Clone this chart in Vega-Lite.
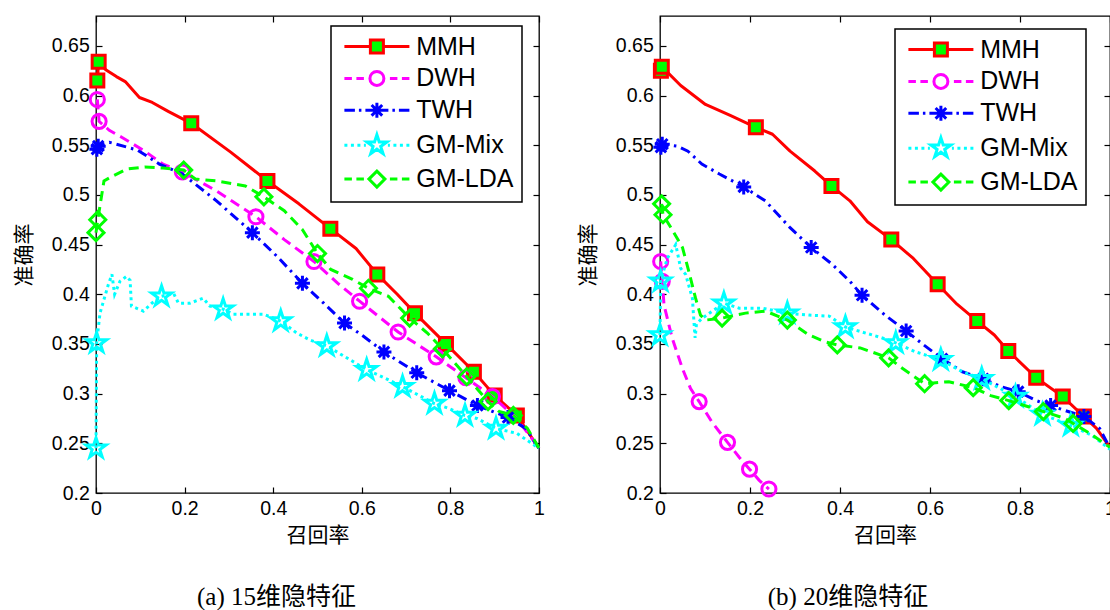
{
  "$schema": "https://vega.github.io/schema/vega-lite/v6.json",
  "background": "white",
  "padding": {"left": 12, "top": 14, "right": 2, "bottom": 2},
  "autosize": {"type": "pad"},
  "bounds": "flush",
  "spacing": 121,
  "datasets": {
    "curves": [
      {"panel": "a", "method": "MMH", "recall": 0.003, "precision": 0.615},
      {"panel": "a", "method": "MMH", "recall": 0.006, "precision": 0.634},
      {"panel": "a", "method": "MMH", "recall": 0.022, "precision": 0.626},
      {"panel": "a", "method": "MMH", "recall": 0.046, "precision": 0.619},
      {"panel": "a", "method": "MMH", "recall": 0.066, "precision": 0.614},
      {"panel": "a", "method": "MMH", "recall": 0.098, "precision": 0.598},
      {"panel": "a", "method": "MMH", "recall": 0.127, "precision": 0.593},
      {"panel": "a", "method": "MMH", "recall": 0.163, "precision": 0.584},
      {"panel": "a", "method": "MMH", "recall": 0.215, "precision": 0.572},
      {"panel": "a", "method": "MMH", "recall": 0.304, "precision": 0.543},
      {"panel": "a", "method": "MMH", "recall": 0.387, "precision": 0.514},
      {"panel": "a", "method": "MMH", "recall": 0.458, "precision": 0.491},
      {"panel": "a", "method": "MMH", "recall": 0.529, "precision": 0.466},
      {"panel": "a", "method": "MMH", "recall": 0.587, "precision": 0.446},
      {"panel": "a", "method": "MMH", "recall": 0.635, "precision": 0.420},
      {"panel": "a", "method": "MMH", "recall": 0.680, "precision": 0.400},
      {"panel": "a", "method": "MMH", "recall": 0.720, "precision": 0.381},
      {"panel": "a", "method": "MMH", "recall": 0.790, "precision": 0.350},
      {"panel": "a", "method": "MMH", "recall": 0.853, "precision": 0.322},
      {"panel": "a", "method": "MMH", "recall": 0.900, "precision": 0.298},
      {"panel": "a", "method": "MMH", "recall": 0.950, "precision": 0.278},
      {"panel": "a", "method": "MMH", "recall": 1.000, "precision": 0.245},

      {"panel": "a", "method": "DWH", "recall": 0.003, "precision": 0.596},
      {"panel": "a", "method": "DWH", "recall": 0.007, "precision": 0.574},
      {"panel": "a", "method": "DWH", "recall": 0.030, "precision": 0.565},
      {"panel": "a", "method": "DWH", "recall": 0.058, "precision": 0.558},
      {"panel": "a", "method": "DWH", "recall": 0.110, "precision": 0.544},
      {"panel": "a", "method": "DWH", "recall": 0.151, "precision": 0.531},
      {"panel": "a", "method": "DWH", "recall": 0.195, "precision": 0.523},
      {"panel": "a", "method": "DWH", "recall": 0.272, "precision": 0.504},
      {"panel": "a", "method": "DWH", "recall": 0.361, "precision": 0.478},
      {"panel": "a", "method": "DWH", "recall": 0.425, "precision": 0.455},
      {"panel": "a", "method": "DWH", "recall": 0.492, "precision": 0.433},
      {"panel": "a", "method": "DWH", "recall": 0.546, "precision": 0.411},
      {"panel": "a", "method": "DWH", "recall": 0.595, "precision": 0.393},
      {"panel": "a", "method": "DWH", "recall": 0.682, "precision": 0.362},
      {"panel": "a", "method": "DWH", "recall": 0.768, "precision": 0.337},
      {"panel": "a", "method": "DWH", "recall": 0.835, "precision": 0.316},
      {"panel": "a", "method": "DWH", "recall": 0.895, "precision": 0.297},
      {"panel": "a", "method": "DWH", "recall": 0.950, "precision": 0.275},
      {"panel": "a", "method": "DWH", "recall": 1.000, "precision": 0.245},

      {"panel": "a", "method": "TWH", "recall": 0.002, "precision": 0.546},
      {"panel": "a", "method": "TWH", "recall": 0.005, "precision": 0.549},
      {"panel": "a", "method": "TWH", "recall": 0.030, "precision": 0.553},
      {"panel": "a", "method": "TWH", "recall": 0.094, "precision": 0.545},
      {"panel": "a", "method": "TWH", "recall": 0.143, "precision": 0.531},
      {"panel": "a", "method": "TWH", "recall": 0.195, "precision": 0.521},
      {"panel": "a", "method": "TWH", "recall": 0.272, "precision": 0.494},
      {"panel": "a", "method": "TWH", "recall": 0.353, "precision": 0.462},
      {"panel": "a", "method": "TWH", "recall": 0.409, "precision": 0.438},
      {"panel": "a", "method": "TWH", "recall": 0.466, "precision": 0.411},
      {"panel": "a", "method": "TWH", "recall": 0.514, "precision": 0.391},
      {"panel": "a", "method": "TWH", "recall": 0.561, "precision": 0.371},
      {"panel": "a", "method": "TWH", "recall": 0.603, "precision": 0.358},
      {"panel": "a", "method": "TWH", "recall": 0.650, "precision": 0.342},
      {"panel": "a", "method": "TWH", "recall": 0.724, "precision": 0.321},
      {"panel": "a", "method": "TWH", "recall": 0.798, "precision": 0.303},
      {"panel": "a", "method": "TWH", "recall": 0.861, "precision": 0.288},
      {"panel": "a", "method": "TWH", "recall": 0.930, "precision": 0.276},
      {"panel": "a", "method": "TWH", "recall": 0.970, "precision": 0.265},
      {"panel": "a", "method": "TWH", "recall": 1.000, "precision": 0.245},

      {"panel": "a", "method": "GM-Mix", "recall": 0.000, "precision": 0.245},
      {"panel": "a", "method": "GM-Mix", "recall": 0.0015, "precision": 0.351},
      {"panel": "a", "method": "GM-Mix", "recall": 0.009, "precision": 0.381},
      {"panel": "a", "method": "GM-Mix", "recall": 0.028, "precision": 0.410},
      {"panel": "a", "method": "GM-Mix", "recall": 0.036, "precision": 0.420},
      {"panel": "a", "method": "GM-Mix", "recall": 0.042, "precision": 0.400},
      {"panel": "a", "method": "GM-Mix", "recall": 0.054, "precision": 0.413},
      {"panel": "a", "method": "GM-Mix", "recall": 0.069, "precision": 0.418},
      {"panel": "a", "method": "GM-Mix", "recall": 0.077, "precision": 0.414},
      {"panel": "a", "method": "GM-Mix", "recall": 0.080, "precision": 0.388},
      {"panel": "a", "method": "GM-Mix", "recall": 0.107, "precision": 0.383},
      {"panel": "a", "method": "GM-Mix", "recall": 0.126, "precision": 0.391},
      {"panel": "a", "method": "GM-Mix", "recall": 0.148, "precision": 0.398},
      {"panel": "a", "method": "GM-Mix", "recall": 0.175, "precision": 0.401},
      {"panel": "a", "method": "GM-Mix", "recall": 0.186, "precision": 0.391},
      {"panel": "a", "method": "GM-Mix", "recall": 0.212, "precision": 0.391},
      {"panel": "a", "method": "GM-Mix", "recall": 0.242, "precision": 0.396},
      {"panel": "a", "method": "GM-Mix", "recall": 0.257, "precision": 0.388},
      {"panel": "a", "method": "GM-Mix", "recall": 0.287, "precision": 0.385},
      {"panel": "a", "method": "GM-Mix", "recall": 0.310, "precision": 0.380},
      {"panel": "a", "method": "GM-Mix", "recall": 0.340, "precision": 0.380},
      {"panel": "a", "method": "GM-Mix", "recall": 0.378, "precision": 0.380},
      {"panel": "a", "method": "GM-Mix", "recall": 0.417, "precision": 0.373},
      {"panel": "a", "method": "GM-Mix", "recall": 0.453, "precision": 0.361},
      {"panel": "a", "method": "GM-Mix", "recall": 0.483, "precision": 0.354},
      {"panel": "a", "method": "GM-Mix", "recall": 0.521, "precision": 0.348},
      {"panel": "a", "method": "GM-Mix", "recall": 0.570, "precision": 0.335},
      {"panel": "a", "method": "GM-Mix", "recall": 0.611, "precision": 0.324},
      {"panel": "a", "method": "GM-Mix", "recall": 0.650, "precision": 0.316},
      {"panel": "a", "method": "GM-Mix", "recall": 0.692, "precision": 0.307},
      {"panel": "a", "method": "GM-Mix", "recall": 0.764, "precision": 0.290},
      {"panel": "a", "method": "GM-Mix", "recall": 0.797, "precision": 0.285},
      {"panel": "a", "method": "GM-Mix", "recall": 0.833, "precision": 0.278},
      {"panel": "a", "method": "GM-Mix", "recall": 0.860, "precision": 0.275},
      {"panel": "a", "method": "GM-Mix", "recall": 0.903, "precision": 0.265},
      {"panel": "a", "method": "GM-Mix", "recall": 0.950, "precision": 0.260},
      {"panel": "a", "method": "GM-Mix", "recall": 1.000, "precision": 0.245},

      {"panel": "a", "method": "GM-LDA", "recall": 0.000, "precision": 0.462},
      {"panel": "a", "method": "GM-LDA", "recall": 0.004, "precision": 0.475},
      {"panel": "a", "method": "GM-LDA", "recall": 0.0097, "precision": 0.491},
      {"panel": "a", "method": "GM-LDA", "recall": 0.018, "precision": 0.514},
      {"panel": "a", "method": "GM-LDA", "recall": 0.038, "precision": 0.519},
      {"panel": "a", "method": "GM-LDA", "recall": 0.070, "precision": 0.526},
      {"panel": "a", "method": "GM-LDA", "recall": 0.110, "precision": 0.528},
      {"panel": "a", "method": "GM-LDA", "recall": 0.151, "precision": 0.527},
      {"panel": "a", "method": "GM-LDA", "recall": 0.198, "precision": 0.525},
      {"panel": "a", "method": "GM-LDA", "recall": 0.224, "precision": 0.516},
      {"panel": "a", "method": "GM-LDA", "recall": 0.272, "precision": 0.514},
      {"panel": "a", "method": "GM-LDA", "recall": 0.337, "precision": 0.509},
      {"panel": "a", "method": "GM-LDA", "recall": 0.379, "precision": 0.498},
      {"panel": "a", "method": "GM-LDA", "recall": 0.425, "precision": 0.484},
      {"panel": "a", "method": "GM-LDA", "recall": 0.466, "precision": 0.465},
      {"panel": "a", "method": "GM-LDA", "recall": 0.500, "precision": 0.441},
      {"panel": "a", "method": "GM-LDA", "recall": 0.530, "precision": 0.425},
      {"panel": "a", "method": "GM-LDA", "recall": 0.579, "precision": 0.415},
      {"panel": "a", "method": "GM-LDA", "recall": 0.615, "precision": 0.406},
      {"panel": "a", "method": "GM-LDA", "recall": 0.660, "precision": 0.398},
      {"panel": "a", "method": "GM-LDA", "recall": 0.708, "precision": 0.376},
      {"panel": "a", "method": "GM-LDA", "recall": 0.748, "precision": 0.361},
      {"panel": "a", "method": "GM-LDA", "recall": 0.782, "precision": 0.345},
      {"panel": "a", "method": "GM-LDA", "recall": 0.837, "precision": 0.317},
      {"panel": "a", "method": "GM-LDA", "recall": 0.885, "precision": 0.292},
      {"panel": "a", "method": "GM-LDA", "recall": 0.910, "precision": 0.282},
      {"panel": "a", "method": "GM-LDA", "recall": 0.942, "precision": 0.278},
      {"panel": "a", "method": "GM-LDA", "recall": 0.974, "precision": 0.265},
      {"panel": "a", "method": "GM-LDA", "recall": 1.000, "precision": 0.245},

      {"panel": "b", "method": "MMH", "recall": 0.002, "precision": 0.625},
      {"panel": "b", "method": "MMH", "recall": 0.004, "precision": 0.629},
      {"panel": "b", "method": "MMH", "recall": 0.046, "precision": 0.610},
      {"panel": "b", "method": "MMH", "recall": 0.101, "precision": 0.591},
      {"panel": "b", "method": "MMH", "recall": 0.156, "precision": 0.580},
      {"panel": "b", "method": "MMH", "recall": 0.213, "precision": 0.568},
      {"panel": "b", "method": "MMH", "recall": 0.250, "precision": 0.561},
      {"panel": "b", "method": "MMH", "recall": 0.289, "precision": 0.544},
      {"panel": "b", "method": "MMH", "recall": 0.344, "precision": 0.524},
      {"panel": "b", "method": "MMH", "recall": 0.381, "precision": 0.509},
      {"panel": "b", "method": "MMH", "recall": 0.422, "precision": 0.494},
      {"panel": "b", "method": "MMH", "recall": 0.461, "precision": 0.473},
      {"panel": "b", "method": "MMH", "recall": 0.514, "precision": 0.455},
      {"panel": "b", "method": "MMH", "recall": 0.563, "precision": 0.436},
      {"panel": "b", "method": "MMH", "recall": 0.617, "precision": 0.410},
      {"panel": "b", "method": "MMH", "recall": 0.660, "precision": 0.390},
      {"panel": "b", "method": "MMH", "recall": 0.705, "precision": 0.373},
      {"panel": "b", "method": "MMH", "recall": 0.743, "precision": 0.359},
      {"panel": "b", "method": "MMH", "recall": 0.774, "precision": 0.343},
      {"panel": "b", "method": "MMH", "recall": 0.836, "precision": 0.316},
      {"panel": "b", "method": "MMH", "recall": 0.895, "precision": 0.297},
      {"panel": "b", "method": "MMH", "recall": 0.942, "precision": 0.277},
      {"panel": "b", "method": "MMH", "recall": 0.970, "precision": 0.265},
      {"panel": "b", "method": "MMH", "recall": 1.000, "precision": 0.246},

      {"panel": "b", "method": "DWH", "recall": 0.0015, "precision": 0.433},
      {"panel": "b", "method": "DWH", "recall": 0.005, "precision": 0.413},
      {"panel": "b", "method": "DWH", "recall": 0.009, "precision": 0.389},
      {"panel": "b", "method": "DWH", "recall": 0.027, "precision": 0.356},
      {"panel": "b", "method": "DWH", "recall": 0.050, "precision": 0.325},
      {"panel": "b", "method": "DWH", "recall": 0.068, "precision": 0.305},
      {"panel": "b", "method": "DWH", "recall": 0.087, "precision": 0.292},
      {"panel": "b", "method": "DWH", "recall": 0.116, "precision": 0.271},
      {"panel": "b", "method": "DWH", "recall": 0.150, "precision": 0.251},
      {"panel": "b", "method": "DWH", "recall": 0.176, "precision": 0.236},
      {"panel": "b", "method": "DWH", "recall": 0.199, "precision": 0.224},
      {"panel": "b", "method": "DWH", "recall": 0.220, "precision": 0.213},
      {"panel": "b", "method": "DWH", "recall": 0.242, "precision": 0.204},

      {"panel": "b", "method": "TWH", "recall": 0.002, "precision": 0.548},
      {"panel": "b", "method": "TWH", "recall": 0.005, "precision": 0.551},
      {"panel": "b", "method": "TWH", "recall": 0.038, "precision": 0.549},
      {"panel": "b", "method": "TWH", "recall": 0.062, "precision": 0.544},
      {"panel": "b", "method": "TWH", "recall": 0.093, "precision": 0.531},
      {"panel": "b", "method": "TWH", "recall": 0.132, "precision": 0.521},
      {"panel": "b", "method": "TWH", "recall": 0.186, "precision": 0.508},
      {"panel": "b", "method": "TWH", "recall": 0.234, "precision": 0.494},
      {"panel": "b", "method": "TWH", "recall": 0.289, "precision": 0.467},
      {"panel": "b", "method": "TWH", "recall": 0.336, "precision": 0.447},
      {"panel": "b", "method": "TWH", "recall": 0.383, "precision": 0.430},
      {"panel": "b", "method": "TWH", "recall": 0.422, "precision": 0.413},
      {"panel": "b", "method": "TWH", "recall": 0.449, "precision": 0.399},
      {"panel": "b", "method": "TWH", "recall": 0.500, "precision": 0.379},
      {"panel": "b", "method": "TWH", "recall": 0.547, "precision": 0.363},
      {"panel": "b", "method": "TWH", "recall": 0.586, "precision": 0.349},
      {"panel": "b", "method": "TWH", "recall": 0.627, "precision": 0.335},
      {"panel": "b", "method": "TWH", "recall": 0.672, "precision": 0.322},
      {"panel": "b", "method": "TWH", "recall": 0.718, "precision": 0.315},
      {"panel": "b", "method": "TWH", "recall": 0.758, "precision": 0.307},
      {"panel": "b", "method": "TWH", "recall": 0.796, "precision": 0.302},
      {"panel": "b", "method": "TWH", "recall": 0.836, "precision": 0.293},
      {"panel": "b", "method": "TWH", "recall": 0.868, "precision": 0.288},
      {"panel": "b", "method": "TWH", "recall": 0.907, "precision": 0.282},
      {"panel": "b", "method": "TWH", "recall": 0.942, "precision": 0.277},
      {"panel": "b", "method": "TWH", "recall": 0.977, "precision": 0.265},
      {"panel": "b", "method": "TWH", "recall": 1.000, "precision": 0.245},

      {"panel": "b", "method": "GM-Mix", "recall": 0.000, "precision": 0.359},
      {"panel": "b", "method": "GM-Mix", "recall": 0.0015, "precision": 0.413},
      {"panel": "b", "method": "GM-Mix", "recall": 0.016, "precision": 0.436},
      {"panel": "b", "method": "GM-Mix", "recall": 0.035, "precision": 0.450},
      {"panel": "b", "method": "GM-Mix", "recall": 0.046, "precision": 0.426},
      {"panel": "b", "method": "GM-Mix", "recall": 0.057, "precision": 0.420},
      {"panel": "b", "method": "GM-Mix", "recall": 0.072, "precision": 0.396},
      {"panel": "b", "method": "GM-Mix", "recall": 0.0755, "precision": 0.372},
      {"panel": "b", "method": "GM-Mix", "recall": 0.078, "precision": 0.356},
      {"panel": "b", "method": "GM-Mix", "recall": 0.081, "precision": 0.370},
      {"panel": "b", "method": "GM-Mix", "recall": 0.094, "precision": 0.376},
      {"panel": "b", "method": "GM-Mix", "recall": 0.142, "precision": 0.391},
      {"panel": "b", "method": "GM-Mix", "recall": 0.176, "precision": 0.386},
      {"panel": "b", "method": "GM-Mix", "recall": 0.227, "precision": 0.386},
      {"panel": "b", "method": "GM-Mix", "recall": 0.283, "precision": 0.381},
      {"panel": "b", "method": "GM-Mix", "recall": 0.331, "precision": 0.379},
      {"panel": "b", "method": "GM-Mix", "recall": 0.376, "precision": 0.378},
      {"panel": "b", "method": "GM-Mix", "recall": 0.412, "precision": 0.367},
      {"panel": "b", "method": "GM-Mix", "recall": 0.494, "precision": 0.356},
      {"panel": "b", "method": "GM-Mix", "recall": 0.524, "precision": 0.351},
      {"panel": "b", "method": "GM-Mix", "recall": 0.568, "precision": 0.342},
      {"panel": "b", "method": "GM-Mix", "recall": 0.624, "precision": 0.334},
      {"panel": "b", "method": "GM-Mix", "recall": 0.672, "precision": 0.322},
      {"panel": "b", "method": "GM-Mix", "recall": 0.715, "precision": 0.315},
      {"panel": "b", "method": "GM-Mix", "recall": 0.790, "precision": 0.297},
      {"panel": "b", "method": "GM-Mix", "recall": 0.850, "precision": 0.279},
      {"panel": "b", "method": "GM-Mix", "recall": 0.913, "precision": 0.268},
      {"panel": "b", "method": "GM-Mix", "recall": 0.960, "precision": 0.258},
      {"panel": "b", "method": "GM-Mix", "recall": 1.000, "precision": 0.244},

      {"panel": "b", "method": "GM-LDA", "recall": 0.0036, "precision": 0.491},
      {"panel": "b", "method": "GM-LDA", "recall": 0.0067, "precision": 0.480},
      {"panel": "b", "method": "GM-LDA", "recall": 0.027, "precision": 0.465},
      {"panel": "b", "method": "GM-LDA", "recall": 0.050, "precision": 0.447},
      {"panel": "b", "method": "GM-LDA", "recall": 0.064, "precision": 0.423},
      {"panel": "b", "method": "GM-LDA", "recall": 0.079, "precision": 0.396},
      {"panel": "b", "method": "GM-LDA", "recall": 0.090, "precision": 0.379},
      {"panel": "b", "method": "GM-LDA", "recall": 0.101, "precision": 0.374},
      {"panel": "b", "method": "GM-LDA", "recall": 0.138, "precision": 0.376},
      {"panel": "b", "method": "GM-LDA", "recall": 0.190, "precision": 0.381},
      {"panel": "b", "method": "GM-LDA", "recall": 0.235, "precision": 0.383},
      {"panel": "b", "method": "GM-LDA", "recall": 0.283, "precision": 0.374},
      {"panel": "b", "method": "GM-LDA", "recall": 0.331, "precision": 0.359},
      {"panel": "b", "method": "GM-LDA", "recall": 0.368, "precision": 0.352},
      {"panel": "b", "method": "GM-LDA", "recall": 0.394, "precision": 0.349},
      {"panel": "b", "method": "GM-LDA", "recall": 0.445, "precision": 0.346},
      {"panel": "b", "method": "GM-LDA", "recall": 0.508, "precision": 0.336},
      {"panel": "b", "method": "GM-LDA", "recall": 0.540, "precision": 0.325},
      {"panel": "b", "method": "GM-LDA", "recall": 0.588, "precision": 0.310},
      {"panel": "b", "method": "GM-LDA", "recall": 0.642, "precision": 0.312},
      {"panel": "b", "method": "GM-LDA", "recall": 0.696, "precision": 0.306},
      {"panel": "b", "method": "GM-LDA", "recall": 0.735, "precision": 0.298},
      {"panel": "b", "method": "GM-LDA", "recall": 0.775, "precision": 0.293},
      {"panel": "b", "method": "GM-LDA", "recall": 0.852, "precision": 0.282},
      {"panel": "b", "method": "GM-LDA", "recall": 0.900, "precision": 0.275},
      {"panel": "b", "method": "GM-LDA", "recall": 0.918, "precision": 0.270},
      {"panel": "b", "method": "GM-LDA", "recall": 0.955, "precision": 0.260},
      {"panel": "b", "method": "GM-LDA", "recall": 1.000, "precision": 0.246}
    ],
    "markers": [
      {"panel": "a", "method": "MMH", "recall": 0.003, "precision": 0.615},
      {"panel": "a", "method": "MMH", "recall": 0.006, "precision": 0.634},
      {"panel": "a", "method": "MMH", "recall": 0.215, "precision": 0.572},
      {"panel": "a", "method": "MMH", "recall": 0.387, "precision": 0.514},
      {"panel": "a", "method": "MMH", "recall": 0.529, "precision": 0.466},
      {"panel": "a", "method": "MMH", "recall": 0.635, "precision": 0.420},
      {"panel": "a", "method": "MMH", "recall": 0.720, "precision": 0.381},
      {"panel": "a", "method": "MMH", "recall": 0.790, "precision": 0.350},
      {"panel": "a", "method": "MMH", "recall": 0.853, "precision": 0.322},
      {"panel": "a", "method": "MMH", "recall": 0.900, "precision": 0.298},
      {"panel": "a", "method": "MMH", "recall": 0.950, "precision": 0.278},

      {"panel": "a", "method": "DWH", "recall": 0.003, "precision": 0.596},
      {"panel": "a", "method": "DWH", "recall": 0.007, "precision": 0.574},
      {"panel": "a", "method": "DWH", "recall": 0.195, "precision": 0.523},
      {"panel": "a", "method": "DWH", "recall": 0.361, "precision": 0.478},
      {"panel": "a", "method": "DWH", "recall": 0.492, "precision": 0.433},
      {"panel": "a", "method": "DWH", "recall": 0.595, "precision": 0.393},
      {"panel": "a", "method": "DWH", "recall": 0.682, "precision": 0.362},
      {"panel": "a", "method": "DWH", "recall": 0.768, "precision": 0.337},
      {"panel": "a", "method": "DWH", "recall": 0.835, "precision": 0.316},
      {"panel": "a", "method": "DWH", "recall": 0.895, "precision": 0.297},

      {"panel": "a", "method": "TWH", "recall": 0.002, "precision": 0.546},
      {"panel": "a", "method": "TWH", "recall": 0.005, "precision": 0.549},
      {"panel": "a", "method": "TWH", "recall": 0.353, "precision": 0.462},
      {"panel": "a", "method": "TWH", "recall": 0.466, "precision": 0.411},
      {"panel": "a", "method": "TWH", "recall": 0.561, "precision": 0.371},
      {"panel": "a", "method": "TWH", "recall": 0.650, "precision": 0.342},
      {"panel": "a", "method": "TWH", "recall": 0.724, "precision": 0.321},
      {"panel": "a", "method": "TWH", "recall": 0.798, "precision": 0.303},
      {"panel": "a", "method": "TWH", "recall": 0.861, "precision": 0.288},
      {"panel": "a", "method": "TWH", "recall": 0.930, "precision": 0.276},

      {"panel": "a", "method": "GM-Mix", "recall": 0.000, "precision": 0.245},
      {"panel": "a", "method": "GM-Mix", "recall": 0.0015, "precision": 0.351},
      {"panel": "a", "method": "GM-Mix", "recall": 0.148, "precision": 0.398},
      {"panel": "a", "method": "GM-Mix", "recall": 0.287, "precision": 0.385},
      {"panel": "a", "method": "GM-Mix", "recall": 0.417, "precision": 0.373},
      {"panel": "a", "method": "GM-Mix", "recall": 0.521, "precision": 0.348},
      {"panel": "a", "method": "GM-Mix", "recall": 0.611, "precision": 0.324},
      {"panel": "a", "method": "GM-Mix", "recall": 0.692, "precision": 0.307},
      {"panel": "a", "method": "GM-Mix", "recall": 0.764, "precision": 0.290},
      {"panel": "a", "method": "GM-Mix", "recall": 0.833, "precision": 0.278},
      {"panel": "a", "method": "GM-Mix", "recall": 0.903, "precision": 0.265},

      {"panel": "a", "method": "GM-LDA", "recall": 0.000, "precision": 0.462},
      {"panel": "a", "method": "GM-LDA", "recall": 0.004, "precision": 0.475},
      {"panel": "a", "method": "GM-LDA", "recall": 0.198, "precision": 0.525},
      {"panel": "a", "method": "GM-LDA", "recall": 0.379, "precision": 0.498},
      {"panel": "a", "method": "GM-LDA", "recall": 0.500, "precision": 0.441},
      {"panel": "a", "method": "GM-LDA", "recall": 0.615, "precision": 0.406},
      {"panel": "a", "method": "GM-LDA", "recall": 0.708, "precision": 0.376},
      {"panel": "a", "method": "GM-LDA", "recall": 0.782, "precision": 0.345},
      {"panel": "a", "method": "GM-LDA", "recall": 0.837, "precision": 0.317},
      {"panel": "a", "method": "GM-LDA", "recall": 0.885, "precision": 0.292},
      {"panel": "a", "method": "GM-LDA", "recall": 0.942, "precision": 0.278},

      {"panel": "b", "method": "MMH", "recall": 0.002, "precision": 0.625},
      {"panel": "b", "method": "MMH", "recall": 0.004, "precision": 0.629},
      {"panel": "b", "method": "MMH", "recall": 0.213, "precision": 0.568},
      {"panel": "b", "method": "MMH", "recall": 0.381, "precision": 0.509},
      {"panel": "b", "method": "MMH", "recall": 0.514, "precision": 0.455},
      {"panel": "b", "method": "MMH", "recall": 0.617, "precision": 0.410},
      {"panel": "b", "method": "MMH", "recall": 0.705, "precision": 0.373},
      {"panel": "b", "method": "MMH", "recall": 0.774, "precision": 0.343},
      {"panel": "b", "method": "MMH", "recall": 0.836, "precision": 0.316},
      {"panel": "b", "method": "MMH", "recall": 0.895, "precision": 0.297},
      {"panel": "b", "method": "MMH", "recall": 0.942, "precision": 0.277},

      {"panel": "b", "method": "DWH", "recall": 0.0015, "precision": 0.433},
      {"panel": "b", "method": "DWH", "recall": 0.005, "precision": 0.413},
      {"panel": "b", "method": "DWH", "recall": 0.087, "precision": 0.292},
      {"panel": "b", "method": "DWH", "recall": 0.150, "precision": 0.251},
      {"panel": "b", "method": "DWH", "recall": 0.199, "precision": 0.224},
      {"panel": "b", "method": "DWH", "recall": 0.242, "precision": 0.204},

      {"panel": "b", "method": "TWH", "recall": 0.002, "precision": 0.548},
      {"panel": "b", "method": "TWH", "recall": 0.005, "precision": 0.551},
      {"panel": "b", "method": "TWH", "recall": 0.186, "precision": 0.508},
      {"panel": "b", "method": "TWH", "recall": 0.336, "precision": 0.447},
      {"panel": "b", "method": "TWH", "recall": 0.449, "precision": 0.399},
      {"panel": "b", "method": "TWH", "recall": 0.547, "precision": 0.363},
      {"panel": "b", "method": "TWH", "recall": 0.627, "precision": 0.335},
      {"panel": "b", "method": "TWH", "recall": 0.718, "precision": 0.315},
      {"panel": "b", "method": "TWH", "recall": 0.796, "precision": 0.302},
      {"panel": "b", "method": "TWH", "recall": 0.868, "precision": 0.288},
      {"panel": "b", "method": "TWH", "recall": 0.942, "precision": 0.277},

      {"panel": "b", "method": "GM-Mix", "recall": 0.000, "precision": 0.359},
      {"panel": "b", "method": "GM-Mix", "recall": 0.0015, "precision": 0.413},
      {"panel": "b", "method": "GM-Mix", "recall": 0.142, "precision": 0.391},
      {"panel": "b", "method": "GM-Mix", "recall": 0.283, "precision": 0.381},
      {"panel": "b", "method": "GM-Mix", "recall": 0.412, "precision": 0.367},
      {"panel": "b", "method": "GM-Mix", "recall": 0.524, "precision": 0.351},
      {"panel": "b", "method": "GM-Mix", "recall": 0.624, "precision": 0.334},
      {"panel": "b", "method": "GM-Mix", "recall": 0.715, "precision": 0.315},
      {"panel": "b", "method": "GM-Mix", "recall": 0.790, "precision": 0.297},
      {"panel": "b", "method": "GM-Mix", "recall": 0.850, "precision": 0.279},
      {"panel": "b", "method": "GM-Mix", "recall": 0.913, "precision": 0.268},

      {"panel": "b", "method": "GM-LDA", "recall": 0.0036, "precision": 0.491},
      {"panel": "b", "method": "GM-LDA", "recall": 0.0067, "precision": 0.480},
      {"panel": "b", "method": "GM-LDA", "recall": 0.138, "precision": 0.376},
      {"panel": "b", "method": "GM-LDA", "recall": 0.283, "precision": 0.374},
      {"panel": "b", "method": "GM-LDA", "recall": 0.394, "precision": 0.349},
      {"panel": "b", "method": "GM-LDA", "recall": 0.508, "precision": 0.336},
      {"panel": "b", "method": "GM-LDA", "recall": 0.588, "precision": 0.310},
      {"panel": "b", "method": "GM-LDA", "recall": 0.696, "precision": 0.306},
      {"panel": "b", "method": "GM-LDA", "recall": 0.775, "precision": 0.293},
      {"panel": "b", "method": "GM-LDA", "recall": 0.852, "precision": 0.282},
      {"panel": "b", "method": "GM-LDA", "recall": 0.918, "precision": 0.270}
    ]
  },
  "hconcat": [
    {
      "width": 443,
      "height": 477,
      "title": {"text": "(a) 15维隐特征", "dx": -41},
      "resolve": {"scale": {"x": "independent", "y": "independent"}},
      "encoding": {
        "x": {"field": "recall", "type": "quantitative", "scale": {"domain": [0, 1], "nice": false, "zero": false}, "axis": null},
        "y": {"field": "precision", "type": "quantitative", "scale": {"domain": [0.2, 0.68], "nice": false, "zero": false}, "axis": null}
      },
      "layer": [
        {
          "data": {"name": "curves"},
          "transform": [{"filter": "datum.panel === 'a' && datum.method === 'MMH'"}],
          "mark": {"type": "line", "color": "#ff0000", "strokeWidth": 3, "strokeJoin": "round"},
          "encoding": {
            "x": {"field": "recall", "type": "quantitative", "scale": {"domain": [0, 1], "nice": false, "zero": false},
                  "axis": {"values": [0, 0.2, 0.4, 0.6, 0.8, 1], "format": "~g", "title": "召回率"}},
            "y": {"field": "precision", "type": "quantitative", "scale": {"domain": [0.2, 0.68], "nice": false, "zero": false},
                  "axis": {"values": [0.2, 0.25, 0.3, 0.35, 0.4, 0.45, 0.5, 0.55, 0.6, 0.65], "format": "~g", "title": "准确率"}}
          }
        },
        {
          "data": {"name": "markers"},
          "transform": [{"filter": "datum.panel === 'a' && datum.method === 'MMH'"}],
          "mark": {"type": "point", "shape": "square", "size": 169, "filled": true, "fill": "#00ff00", "stroke": "#ff0000", "strokeWidth": 3, "opacity": 1}
        },
        {
          "data": {"name": "curves"},
          "transform": [{"filter": "datum.panel === 'a' && datum.method === 'DWH'"}],
          "mark": {"type": "line", "color": "#ff00ff", "strokeWidth": 3, "strokeDash": [10, 6]}
        },
        {
          "data": {"name": "markers"},
          "transform": [{"filter": "datum.panel === 'a' && datum.method === 'DWH'"}],
          "mark": {"type": "point", "shape": "circle", "size": 200, "filled": false, "color": "#ff00ff", "strokeWidth": 3, "opacity": 1}
        },
        {
          "data": {"name": "curves"},
          "transform": [{"filter": "datum.panel === 'a' && datum.method === 'TWH'"}],
          "mark": {"type": "line", "color": "#0000ff", "strokeWidth": 3, "strokeDash": [10, 5, 2.5, 5]}
        },
        {
          "data": {"name": "markers"},
          "transform": [{"filter": "datum.panel === 'a' && datum.method === 'TWH'"}],
          "mark": {"type": "point", "shape": "M-1,0H1M0,-1V1M-0.7,-0.7L0.7,0.7M-0.7,0.7L0.7,-0.7", "size": 225, "filled": false, "color": "#0000ff", "strokeWidth": 3, "opacity": 1}
        },
        {
          "data": {"name": "curves"},
          "transform": [{"filter": "datum.panel === 'a' && datum.method === 'GM-Mix'"}],
          "mark": {"type": "line", "color": "#00ffff", "strokeWidth": 3, "strokeDash": [3, 3.5]}
        },
        {
          "data": {"name": "markers"},
          "transform": [{"filter": "datum.panel === 'a' && datum.method === 'GM-Mix'"}],
          "mark": {"type": "point", "shape": "M0,-1L0.2245,-0.309L0.9511,-0.309L0.3633,0.118L0.5878,0.809L0,0.382L-0.5878,0.809L-0.3633,0.118L-0.9511,-0.309L-0.2245,-0.309Z", "size": 441, "filled": false, "color": "#00ffff", "strokeWidth": 3, "opacity": 1}
        },
        {
          "data": {"name": "curves"},
          "transform": [{"filter": "datum.panel === 'a' && datum.method === 'GM-LDA'"}],
          "mark": {"type": "line", "color": "#00ff00", "strokeWidth": 3, "strokeDash": [10, 6]}
        },
        {
          "data": {"name": "markers"},
          "transform": [{"filter": "datum.panel === 'a' && datum.method === 'GM-LDA'"}],
          "mark": {"type": "point", "shape": "diamond", "size": 256, "filled": false, "color": "#00ff00", "strokeWidth": 3, "opacity": 1}
        },
        {
          "data": {"name": "markers"},
          "transform": [{"filter": "datum.panel === 'a'"}],
          "mark": {"type": "point", "opacity": 0, "size": 0.01},
          "encoding": {
            "x": {"field": "recall", "type": "quantitative", "scale": {"domain": [0, 1], "nice": false, "zero": false},
                  "axis": {"orient": "top", "values": [0, 0.2, 0.4, 0.6, 0.8, 1], "labels": false, "title": null}},
            "y": {"field": "precision", "type": "quantitative", "scale": {"domain": [0.2, 0.68], "nice": false, "zero": false},
                  "axis": {"orient": "right", "values": [0.2, 0.25, 0.3, 0.35, 0.4, 0.45, 0.5, 0.55, 0.6, 0.65], "labels": false, "title": null}},
            "shape": {"field": "method", "type": "nominal",
                      "scale": {"domain": ["MMH", "DWH", "TWH", "GM-Mix", "GM-LDA"],
                                "range": [
                                  "M-32.5,0H-6.5M6.5,0H32.5M-6.5,-6.5H6.5V6.5H-6.5Z",
                                  "M-32.5,0H-25M-20.5,0H-13M13,0H20.5M25,0H32.5M7,0A7,7,0,1,1,-7,0A7,7,0,1,1,7,0Z",
                                  "M-32.5,0H-22M-18,0H-15.5M-11.5,0H11.5M15.5,0H18M22,0H32.5M0,-7.5V7.5M-5.3,-5.3L5.3,5.3M-5.3,5.3L5.3,-5.3",
                                  "M-32.5,0H-29.5M-26,0H-23M-19.5,0H-16.5M-13,0H-11M11,0H13M16.5,0H19.5M23,0H26M29.5,0H32.5M0,-10.5L2.357,-3.245L9.986,-3.245L3.815,1.239L6.172,8.495L0,4.011L-6.172,8.495L-3.815,1.239L-9.986,-3.245L-2.357,-3.245Z",
                                  "M-32.5,0H-25M-20.5,0H-13M13,0H20.5M25,0H32.5M0,-8L8,0L0,8L-8,0Z"
                                ]},
                      "legend": {"orient": "none", "legendX": 235, "legendY": 10}},
            "stroke": {"field": "method", "type": "nominal",
                       "scale": {"domain": ["MMH", "DWH", "TWH", "GM-Mix", "GM-LDA"], "range": ["#ff0000", "#ff00ff", "#0000ff", "#00ffff", "#00ff00"]},
                       "legend": {"orient": "none", "legendX": 235, "legendY": 10}},
            "fill": {"field": "method", "type": "nominal",
                     "scale": {"domain": ["MMH", "DWH", "TWH", "GM-Mix", "GM-LDA"], "range": ["#00ff00", "#ffffff", "#ffffff", "#ffffff", "#ffffff"]},
                     "legend": {"orient": "none", "legendX": 235, "legendY": 10}}
          }
        }
      ]
    },
    {
      "width": 450,
      "height": 477,
      "title": {"text": "(b) 20维隐特征", "dx": -37},
      "resolve": {"scale": {"x": "independent", "y": "independent"}},
      "encoding": {
        "x": {"field": "recall", "type": "quantitative", "scale": {"domain": [0, 1], "nice": false, "zero": false}, "axis": null},
        "y": {"field": "precision", "type": "quantitative", "scale": {"domain": [0.2, 0.68], "nice": false, "zero": false}, "axis": null}
      },
      "layer": [
        {
          "data": {"name": "curves"},
          "transform": [{"filter": "datum.panel === 'b' && datum.method === 'MMH'"}],
          "mark": {"type": "line", "color": "#ff0000", "strokeWidth": 3, "strokeJoin": "round"},
          "encoding": {
            "x": {"field": "recall", "type": "quantitative", "scale": {"domain": [0, 1], "nice": false, "zero": false},
                  "axis": {"values": [0, 0.2, 0.4, 0.6, 0.8, 1], "format": "~g", "title": "召回率"}},
            "y": {"field": "precision", "type": "quantitative", "scale": {"domain": [0.2, 0.68], "nice": false, "zero": false},
                  "axis": {"values": [0.2, 0.25, 0.3, 0.35, 0.4, 0.45, 0.5, 0.55, 0.6, 0.65], "format": "~g", "title": "准确率"}}
          }
        },
        {
          "data": {"name": "markers"},
          "transform": [{"filter": "datum.panel === 'b' && datum.method === 'MMH'"}],
          "mark": {"type": "point", "shape": "square", "size": 169, "filled": true, "fill": "#00ff00", "stroke": "#ff0000", "strokeWidth": 3, "opacity": 1}
        },
        {
          "data": {"name": "curves"},
          "transform": [{"filter": "datum.panel === 'b' && datum.method === 'DWH'"}],
          "mark": {"type": "line", "color": "#ff00ff", "strokeWidth": 3, "strokeDash": [10, 6]}
        },
        {
          "data": {"name": "markers"},
          "transform": [{"filter": "datum.panel === 'b' && datum.method === 'DWH'"}],
          "mark": {"type": "point", "shape": "circle", "size": 200, "filled": false, "color": "#ff00ff", "strokeWidth": 3, "opacity": 1}
        },
        {
          "data": {"name": "curves"},
          "transform": [{"filter": "datum.panel === 'b' && datum.method === 'TWH'"}],
          "mark": {"type": "line", "color": "#0000ff", "strokeWidth": 3, "strokeDash": [10, 5, 2.5, 5]}
        },
        {
          "data": {"name": "markers"},
          "transform": [{"filter": "datum.panel === 'b' && datum.method === 'TWH'"}],
          "mark": {"type": "point", "shape": "M-1,0H1M0,-1V1M-0.7,-0.7L0.7,0.7M-0.7,0.7L0.7,-0.7", "size": 225, "filled": false, "color": "#0000ff", "strokeWidth": 3, "opacity": 1}
        },
        {
          "data": {"name": "curves"},
          "transform": [{"filter": "datum.panel === 'b' && datum.method === 'GM-Mix'"}],
          "mark": {"type": "line", "color": "#00ffff", "strokeWidth": 3, "strokeDash": [3, 3.5]}
        },
        {
          "data": {"name": "markers"},
          "transform": [{"filter": "datum.panel === 'b' && datum.method === 'GM-Mix'"}],
          "mark": {"type": "point", "shape": "M0,-1L0.2245,-0.309L0.9511,-0.309L0.3633,0.118L0.5878,0.809L0,0.382L-0.5878,0.809L-0.3633,0.118L-0.9511,-0.309L-0.2245,-0.309Z", "size": 441, "filled": false, "color": "#00ffff", "strokeWidth": 3, "opacity": 1}
        },
        {
          "data": {"name": "curves"},
          "transform": [{"filter": "datum.panel === 'b' && datum.method === 'GM-LDA'"}],
          "mark": {"type": "line", "color": "#00ff00", "strokeWidth": 3, "strokeDash": [10, 6]}
        },
        {
          "data": {"name": "markers"},
          "transform": [{"filter": "datum.panel === 'b' && datum.method === 'GM-LDA'"}],
          "mark": {"type": "point", "shape": "diamond", "size": 256, "filled": false, "color": "#00ff00", "strokeWidth": 3, "opacity": 1}
        },
        {
          "data": {"name": "markers"},
          "transform": [{"filter": "datum.panel === 'b'"}],
          "mark": {"type": "point", "opacity": 0, "size": 0.01},
          "encoding": {
            "x": {"field": "recall", "type": "quantitative", "scale": {"domain": [0, 1], "nice": false, "zero": false},
                  "axis": {"orient": "top", "values": [0, 0.2, 0.4, 0.6, 0.8, 1], "labels": false, "title": null}},
            "y": {"field": "precision", "type": "quantitative", "scale": {"domain": [0.2, 0.68], "nice": false, "zero": false},
                  "axis": {"orient": "right", "values": [0.2, 0.25, 0.3, 0.35, 0.4, 0.45, 0.5, 0.55, 0.6, 0.65], "labels": false, "title": null}},
            "shape": {"field": "method", "type": "nominal",
                      "scale": {"domain": ["MMH", "DWH", "TWH", "GM-Mix", "GM-LDA"],
                                "range": [
                                  "M-32.5,0H-6.5M6.5,0H32.5M-6.5,-6.5H6.5V6.5H-6.5Z",
                                  "M-32.5,0H-25M-20.5,0H-13M13,0H20.5M25,0H32.5M7,0A7,7,0,1,1,-7,0A7,7,0,1,1,7,0Z",
                                  "M-32.5,0H-22M-18,0H-15.5M-11.5,0H11.5M15.5,0H18M22,0H32.5M0,-7.5V7.5M-5.3,-5.3L5.3,5.3M-5.3,5.3L5.3,-5.3",
                                  "M-32.5,0H-29.5M-26,0H-23M-19.5,0H-16.5M-13,0H-11M11,0H13M16.5,0H19.5M23,0H26M29.5,0H32.5M0,-10.5L2.357,-3.245L9.986,-3.245L3.815,1.239L6.172,8.495L0,4.011L-6.172,8.495L-3.815,1.239L-9.986,-3.245L-2.357,-3.245Z",
                                  "M-32.5,0H-25M-20.5,0H-13M13,0H20.5M25,0H32.5M0,-8L8,0L0,8L-8,0Z"
                                ]},
                      "legend": {"orient": "none", "legendX": 235, "legendY": 13}},
            "stroke": {"field": "method", "type": "nominal",
                       "scale": {"domain": ["MMH", "DWH", "TWH", "GM-Mix", "GM-LDA"], "range": ["#ff0000", "#ff00ff", "#0000ff", "#00ffff", "#00ff00"]},
                       "legend": {"orient": "none", "legendX": 235, "legendY": 13}},
            "fill": {"field": "method", "type": "nominal",
                     "scale": {"domain": ["MMH", "DWH", "TWH", "GM-Mix", "GM-LDA"], "range": ["#00ff00", "#ffffff", "#ffffff", "#ffffff", "#ffffff"]},
                     "legend": {"orient": "none", "legendX": 235, "legendY": 13}}
          }
        }
      ]
    }
  ],
  "resolve": {
    "scale": {"shape": "independent", "stroke": "independent", "fill": "independent"},
    "legend": {"shape": "independent", "stroke": "independent", "fill": "independent"}
  },
  "config": {
    "font": "Liberation Sans",
    "view": {"stroke": "#000000", "strokeWidth": 1.3},
    "axis": {
      "grid": false,
      "domain": false,
      "ticks": true,
      "tickColor": "#000000",
      "tickWidth": 1.2,
      "tickSize": -6,
      "labelFont": "Liberation Sans",
      "labelFontSize": 19.5,
      "labelColor": "#000000",
      "labelFlush": false,
      "labelOverlap": false,
      "titleFont": "Noto Sans CJK SC",
      "titleFontSize": 21,
      "titleFontWeight": "normal",
      "titleColor": "#000000"
    },
    "axisX": {"labelPadding": 12.5, "titlePadding": 6},
    "axisY": {"labelPadding": 12.7, "titlePadding": 17},
    "legend": {
      "title": null,
      "padding": 8,
      "rowPadding": 4.9,
      "symbolSize": 4,
      "symbolStrokeWidth": 3,
      "symbolOffset": 25.4,
      "symbolOpacity": 1,
      "labelOffset": 26.8,
      "labelFont": "Liberation Sans",
      "labelFontSize": 25,
      "labelColor": "#000000",
      "labelLimit": 400,
      "fillColor": "#ffffff",
      "strokeColor": "#000000",
      "strokeWidth": 1.5
    },
    "title": {
      "orient": "bottom",
      "anchor": "middle",
      "offset": 40,
      "font": "Liberation Serif, Noto Sans CJK SC",
      "fontSize": 25,
      "fontWeight": "normal",
      "color": "#000000"
    }
  }
}
